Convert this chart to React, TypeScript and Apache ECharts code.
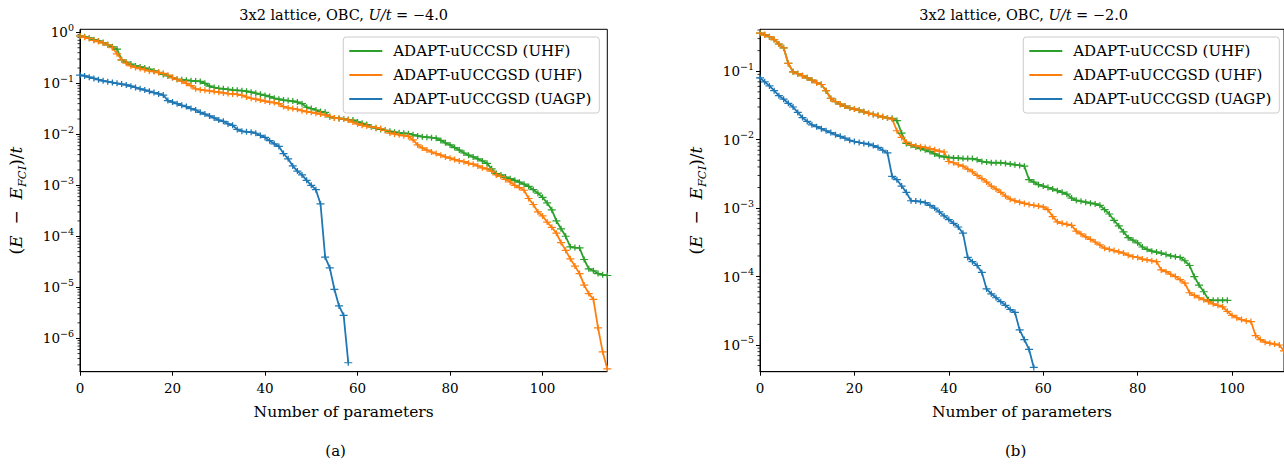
import React, { useEffect, useRef } from "react";
import * as echarts from "echarts";

const seriesNames = ["ADAPT-uUCCSD (UHF)", "ADAPT-uUCCGSD (UHF)", "ADAPT-uUCCGSD (UAGP)"];
const colors = ["#2ca02c", "#ff7f0e", "#1f77b4"];
const titleU = ["−4.0", "−2.0"];
const captions = ["(a)", "(b)"];
const xLabel = "Number of parameters";
const xMaxs = [114, 111];
const yMins = [2.2e-7, 4.07e-6];
const yMaxs = [1.15, 0.41];

// Panel (a): U/t = -4.0 ; value at index n = number of parameters
const greenA = [
  0.85, 0.82, 0.78, 0.72, 0.68, 0.63, 0.57, 0.52, 0.47, 0.29,
  0.26, 0.24, 0.22, 0.21, 0.2, 0.19, 0.175, 0.165, 0.15, 0.14,
  0.13, 0.12, 0.118, 0.115, 0.113, 0.111, 0.109, 0.1, 0.088, 0.083,
  0.08, 0.078, 0.076, 0.074, 0.073, 0.072, 0.07, 0.067, 0.064, 0.061,
  0.058, 0.055, 0.051, 0.049, 0.047, 0.046, 0.045, 0.043, 0.04, 0.034,
  0.032, 0.03, 0.028, 0.027, 0.022, 0.021, 0.0205, 0.02, 0.0195, 0.019,
  0.0175, 0.0165, 0.0155, 0.014, 0.0132, 0.0125, 0.012, 0.0115, 0.011, 0.0107,
  0.0105, 0.0103, 0.0098, 0.0093, 0.009, 0.0088, 0.0086, 0.0084, 0.0076, 0.0068,
  0.0062, 0.0055, 0.0049, 0.0043, 0.0039, 0.0036, 0.0033, 0.003, 0.0027, 0.0021,
  0.0017, 0.0016, 0.00145, 0.00135, 0.00125, 0.00115, 0.00105, 0.00095, 0.00082, 0.0007,
  0.00058, 0.00045, 0.00033, 0.0002, 0.00014, 0.0001, 6.2e-5, 6.0e-5, 5.9e-5, 3.5e-5,
  2.3e-5, 2.1e-5, 1.85e-5, 1.75e-5, 1.7e-5,
];
const orangeA = [
  0.85, 0.8, 0.76, 0.7, 0.66, 0.62, 0.57, 0.5, 0.38, 0.29,
  0.25, 0.22, 0.205, 0.195, 0.185, 0.175, 0.17, 0.163, 0.157, 0.145,
  0.13, 0.12, 0.11, 0.1, 0.09, 0.078, 0.075, 0.073, 0.071, 0.069,
  0.067, 0.065, 0.063, 0.062, 0.061, 0.058, 0.054, 0.051, 0.049, 0.047,
  0.045, 0.043, 0.042, 0.04, 0.035, 0.033, 0.032, 0.031, 0.029, 0.028,
  0.027, 0.026, 0.025, 0.024, 0.0225, 0.021, 0.0205, 0.02, 0.019, 0.0174,
  0.016, 0.015, 0.0145, 0.014, 0.0135, 0.013, 0.012, 0.0106, 0.0102, 0.0098,
  0.0094, 0.0091, 0.0078, 0.0062, 0.0054, 0.0049, 0.0045, 0.0042, 0.0039, 0.0036,
  0.0034, 0.0032, 0.003, 0.0029, 0.0027, 0.0026, 0.0024, 0.0022, 0.0021, 0.0019,
  0.0016, 0.0015, 0.0013, 0.00116, 0.001, 0.0009, 0.0008, 0.00055, 0.00042, 0.0003,
  0.00025, 0.00019, 0.00015, 0.000115, 7.5e-5, 5.3e-5, 3.6e-5, 2.6e-5, 1.85e-5, 1.1e-5,
  7.5e-6, 5.8e-6, 1.6e-6, 5.4e-7, 2.5e-7,
];
const blueA = [
  0.145, 0.14, 0.132, 0.125, 0.118, 0.112, 0.108, 0.104, 0.1, 0.097,
  0.093, 0.088, 0.083, 0.078, 0.074, 0.07, 0.066, 0.062, 0.059, 0.046,
  0.043, 0.04, 0.037, 0.035, 0.032, 0.03, 0.027, 0.025, 0.023, 0.021,
  0.019, 0.018, 0.016, 0.015, 0.0125, 0.0115, 0.0112, 0.011, 0.0105, 0.0095,
  0.0087, 0.0075, 0.0065, 0.0058, 0.0042, 0.0033, 0.0024, 0.0019, 0.0016, 0.00125,
  0.001, 0.00082, 0.00043, 3.9e-5, 2.4e-5, 9.1e-6, 4.3e-6, 2.8e-6, 3.3e-7,
];

// Panel (b): U/t = -2.0
const greenB = [
  0.36, 0.34, 0.32, 0.29, 0.25, 0.22, 0.13, 0.098, 0.092, 0.086,
  0.08, 0.074, 0.068, 0.064, 0.052, 0.04, 0.036, 0.033, 0.031, 0.029,
  0.028, 0.027, 0.0255, 0.0243, 0.0234, 0.0225, 0.0216, 0.0208, 0.0205, 0.019,
  0.0125, 0.0088, 0.0083, 0.0078, 0.0074, 0.0071, 0.0067, 0.0062, 0.0058, 0.0056,
  0.0055, 0.0054, 0.0054, 0.0053, 0.0053, 0.0053, 0.0051, 0.0048, 0.0047, 0.0046,
  0.0046, 0.0046, 0.0045, 0.0044, 0.0043, 0.0042, 0.0041, 0.0026, 0.0024, 0.0022,
  0.0021, 0.002, 0.0019, 0.0018, 0.0017, 0.0016, 0.0014, 0.0013, 0.00126, 0.00122,
  0.00118, 0.00115, 0.0011, 0.00095, 0.00082, 0.00066, 0.00055, 0.00045, 0.00037, 0.00034,
  0.00031, 0.00027, 0.00025, 0.000235, 0.000228, 0.00022, 0.00021, 0.0002, 0.000195, 0.00019,
  0.00017, 0.000145, 0.0001, 7.5e-5, 6e-5, 4.6e-5, 4.5e-5, 4.5e-5, 4.5e-5, 4.5e-5,
];
const orangeB = [
  0.36, 0.34, 0.32, 0.29, 0.25, 0.22, 0.13, 0.098, 0.092, 0.086,
  0.08, 0.074, 0.068, 0.064, 0.052, 0.04, 0.036, 0.033, 0.031, 0.029,
  0.028, 0.027, 0.0255, 0.0243, 0.0234, 0.0225, 0.0216, 0.0208, 0.02, 0.0135,
  0.0108, 0.0092, 0.0085, 0.0081, 0.0079, 0.0077, 0.0074, 0.0071, 0.0068, 0.0066,
  0.0048, 0.0046, 0.0043, 0.0041, 0.0037, 0.0034, 0.003, 0.0027, 0.0024, 0.0021,
  0.0019, 0.0017, 0.0015, 0.00135, 0.00128, 0.00122, 0.00117, 0.00113, 0.0011, 0.00107,
  0.00104, 0.00095, 0.00075, 0.00063, 0.0006, 0.00058, 0.00056, 0.00046, 0.00042, 0.00038,
  0.00035, 0.00032, 0.00029, 0.00026, 0.00025, 0.00024, 0.00023, 0.00022, 0.000205, 0.000195,
  0.00019, 0.00018, 0.000175, 0.00017, 0.000165, 0.000125, 0.000118, 0.000108, 0.0001, 9e-5,
  8e-5, 5.8e-5, 5.3e-5, 4.9e-5, 4.6e-5, 4.3e-5, 4e-5, 3.8e-5, 3.6e-5, 3.1e-5,
  2.7e-5, 2.5e-5, 2.35e-5, 2.25e-5, 2.2e-5, 1.37e-5, 1.2e-5, 1.1e-5, 1.06e-5, 1.03e-5,
  1.0e-5, 8.2e-6,
];
const blueB = [
  0.08, 0.07, 0.061, 0.052, 0.044, 0.039, 0.034, 0.03, 0.025, 0.021,
  0.0185, 0.0165, 0.0155, 0.0145, 0.0135, 0.0127, 0.0118, 0.0112, 0.0105, 0.0098,
  0.0094, 0.0091, 0.0088, 0.0086, 0.0082, 0.0077, 0.007, 0.0064, 0.0029, 0.0026,
  0.0021, 0.0017, 0.00128, 0.00127, 0.00124, 0.0012, 0.0011, 0.001, 0.00088, 0.00077,
  0.00068, 0.0006, 0.00053, 0.00043, 0.00019, 0.000165, 0.000145, 0.000115, 6.6e-5, 5.6e-5,
  4.9e-5, 4.3e-5, 3.8e-5, 3.3e-5, 3.0e-5, 1.66e-5, 1.2e-5, 8.6e-6, 4.7e-6,
];

const panelData = [
  [greenA, orangeA, blueA],
  [greenB, orangeB, blueB],
];

const FONT = '"DejaVu Serif", serif';
const W = 1284;
const H = 465;

const GRIDS = [
  { left: 80, top: 29.3, width: 527.3, height: 342.4 },
  { left: 760, top: 29.3, width: 527.3, height: 342.4 },
];

function minorTickValues(lo: number, hi: number): number[] {
  const out: number[] = [];
  for (let e = Math.floor(Math.log10(lo)); e <= Math.ceil(Math.log10(hi)); e++) {
    for (let m = 2; m <= 9; m++) {
      const v = m * Math.pow(10, e);
      if (v >= lo && v <= hi) out.push(v);
    }
  }
  return out;
}

const PLUS = "path://M0,4 H10 V6 H0 Z M4.2,0 H5.8 V10 H4.2 Z";

export default function App() {
  const ref = useRef<HTMLDivElement>(null);
  useEffect(() => {
    if (!ref.current) return;
    const chart = echarts.init(ref.current, null, { renderer: "svg" });

    const baseText = { fontFamily: FONT, color: "#000", fontWeight: "normal" as const };
    const grid: any[] = [];
    const xAxis: any[] = [];
    const yAxis: any[] = [];
    const series: any[] = [];
    const legend: any[] = [];
    const graphic: any[] = [];

    GRIDS.forEach((g, p) => {
      grid.push({
        left: g.left,
        top: g.top,
        width: g.width,
        height: g.height,
        show: true,
        borderColor: "#000",
        borderWidth: 1,
      });
      xAxis.push({
        type: "value",
        gridIndex: p,
        min: 0,
        max: xMaxs[p],
        interval: 20,
        name: xLabel,
        nameLocation: "middle",
        nameGap: 32,
        nameTextStyle: { ...baseText, fontSize: 15.5 },
        axisLine: { lineStyle: { color: "#000", width: 1 } },
        axisTick: { length: 4, lineStyle: { color: "#000" } },
        axisLabel: { ...baseText, fontSize: 13.5, margin: 9, showMaxLabel: false },
        splitLine: { show: false },
      });
      yAxis.push({
        type: "log",
        logBase: 10,
        gridIndex: p,
        min: yMins[p],
        max: yMaxs[p],
        name: "{n|(}{i|E}{n|  −  }{i|E}{sub|FCI}{n|)/}{i|t}",
        nameLocation: "middle",
        nameRotate: 90,
        nameGap: 52,
        nameTextStyle: {
          rich: {
            n: { ...baseText, fontSize: 17, lineHeight: 24 },
            i: { ...baseText, fontSize: 17, fontStyle: "italic", lineHeight: 24 },
            sub: { ...baseText, fontSize: 11.5, fontStyle: "italic", lineHeight: 14, verticalAlign: "bottom" },
          },
        },
        axisLine: { lineStyle: { color: "#000", width: 1 } },
        axisTick: { length: 4, lineStyle: { color: "#000" } },
        axisLabel: {
          margin: 6,
          showMinLabel: false,
          showMaxLabel: false,
          formatter: (v: number) => {
            const e = Math.round(Math.log10(v));
            return `{b|10}{s|${e < 0 ? "−" : ""}${Math.abs(e)}}`;
          },
          rich: {
            b: { ...baseText, fontSize: 13.5, lineHeight: 20 },
            s: { ...baseText, fontSize: 9.5, lineHeight: 11, verticalAlign: "top" },
          },
        },
        splitLine: { show: false },
      });

      panelData[p].forEach((arr, k) => {
        series.push({
          type: "line",
          name: seriesNames[k],
          xAxisIndex: p,
          yAxisIndex: p,
          data: arr.map((v, i) => [i, v]),
          symbol: PLUS,
          symbolSize: [8, 6],
          showSymbol: true,
          color: colors[k],
          itemStyle: { color: colors[k] },
          lineStyle: { color: colors[k], width: 1.8 },
          emphasis: { disabled: true },
          clip: true,
        });
      });

      series.push({
        type: "custom",
        name: "minor" + p,
        xAxisIndex: p,
        yAxisIndex: p,
        silent: true,
        clip: false,
        encode: { x: 0, y: 1 },
        data: minorTickValues(yMins[p], yMaxs[p]).map((v) => [0, v]),
        renderItem: (params: any, api: any) => {
          const pt = api.coord([api.value(0), api.value(1)]);
          return {
            type: "line",
            shape: { x1: pt[0] - 2.5, y1: pt[1], x2: pt[0], y2: pt[1] },
            style: { stroke: "#000", lineWidth: 0.8 },
          };
        },
      });

      legend.push({
        show: true,
        orient: "vertical",
        right: W - (g.left + g.width) + 8,
        top: 37,
        data: seriesNames.map((n) => ({ name: n, icon: "rect" })),
        itemWidth: 33,
        itemHeight: 2,
        itemGap: 8,
        padding: [6, 8, 6, 6],
        borderColor: "#cccccc",
        borderWidth: 1,
        borderRadius: 3,
        backgroundColor: "rgba(255,255,255,0.8)",
        selectedMode: false,
        textStyle: { ...baseText, fontSize: 15, padding: [0, 0, 0, 6], lineHeight: 16 },
      });

      // title: same look as the axis names (rich text in an x-axis-name-like text)
      const tFont = "14.5px " + FONT;
      const tItal = "italic 14.5px " + FONT;
      graphic.push({
        type: "text",
        x: g.left + g.width / 2,
        y: 15,
        silent: true,
        style: {
          text: `{n|3x2 lattice, OBC, }{i|U/t}{n| = ${titleU[p]}}`,
          align: "center",
          verticalAlign: "middle",
          font: tFont,
          fill: "#000",
          rich: {
            n: { font: tFont, fontFamily: FONT, fontSize: 14.5, fill: "#000" },
            i: { font: tItal, fontFamily: FONT, fontSize: 14.5, fontStyle: "italic", fill: "#000" },
          },
        },
      });
      graphic.push({
        type: "text",
        x: g.left + g.width / 2 - 8,
        y: 451,
        silent: true,
        style: {
          text: captions[p],
          align: "center",
          verticalAlign: "middle",
          font: `15px ${FONT}`,
          fill: "#000",
        },
      });
    });

    chart.setOption({
      animation: false,
      backgroundColor: "#ffffff",
      graphic,
      legend,
      grid,
      xAxis,
      yAxis,
      series,
    });
    return () => chart.dispose();
  }, []);

  return (
    <div
      ref={ref}
      style={{ position: "absolute", left: 0, top: 0, width: W, height: H }}
    />
  );
}
